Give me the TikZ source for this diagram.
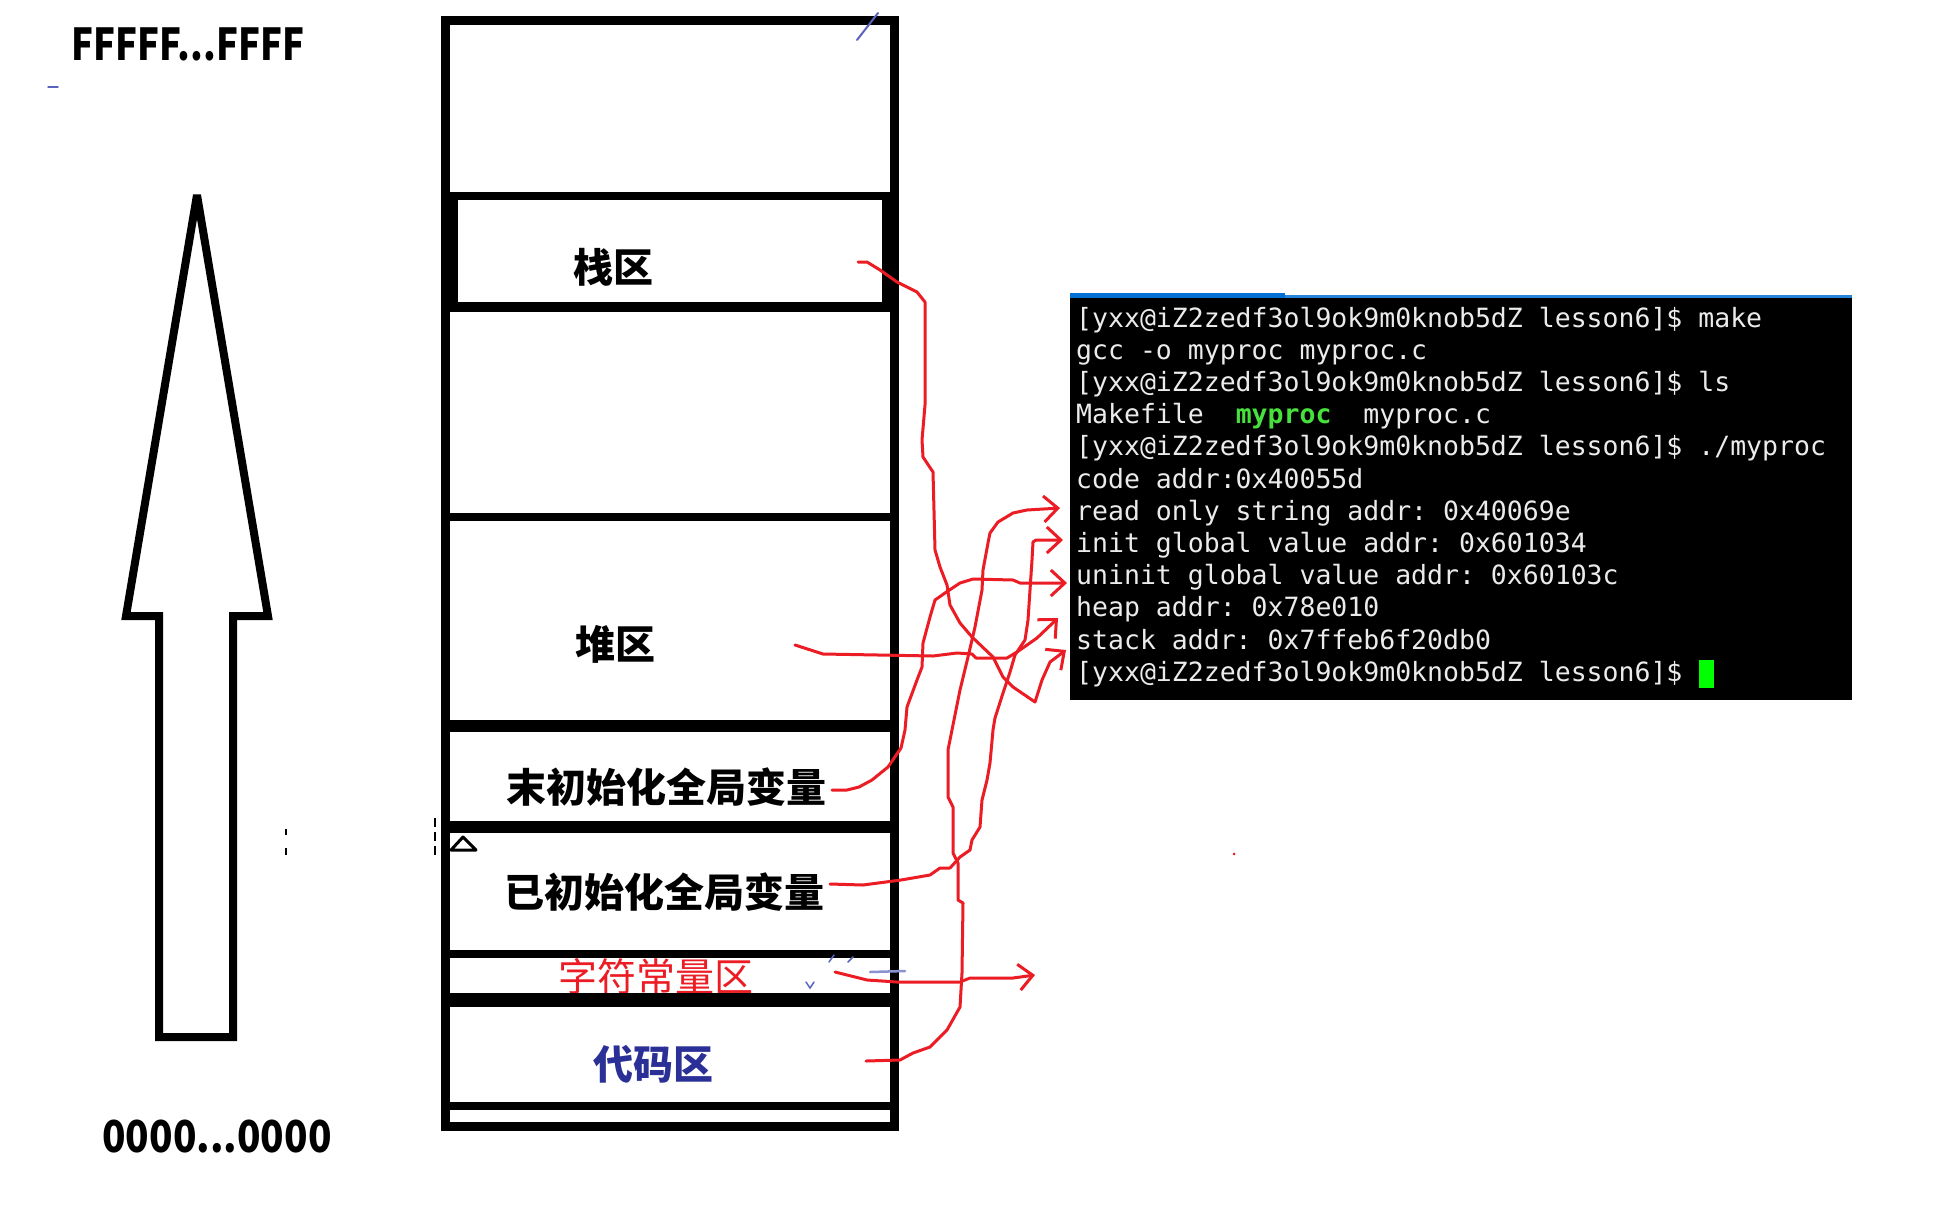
\documentclass[tikz,border=0pt]{standalone}
\usepackage{fontspec}
\usepackage{xcolor}
\usetikzlibrary{arrows.meta, positioning}
\newfontfamily\cjk{Noto Sans CJK SC}
\newfontfamily\mono{DejaVu Sans Mono}
\definecolor{penred}{RGB}{236,28,36}
\definecolor{codeblue}{RGB}{42,48,150}
\definecolor{inkblue}{RGB}{90,100,190}
\definecolor{termfg}{RGB}{235,235,235}
\definecolor{termgreen}{RGB}{70,225,60}
\definecolor{cursorgreen}{RGB}{0,255,0}
\definecolor{tabblue}{RGB}{0,112,212}

\begin{document}
\begin{tikzpicture}[x=1pt, y=-1pt,
  wall/.style={draw=black, line width=9pt},
  area/.style={font=\cjk\bfseries\fontsize{40}{40}\selectfont, inner sep=0pt},
  addr/.style={font=\cjk\bfseries\fontsize{44}{44}\selectfont, inner sep=0pt},
  tline/.style={font=\mono\fontsize{26.5}{26.5}\selectfont\frenchspacing, text=termfg, inner sep=0pt,
                text height=20pt, text depth=6pt, anchor=north west},
  pen/.style={draw=penred, line width=3pt, line join=round, line cap=round,
              -{Straight Barb[length=14pt, width=26pt]}},
  ink/.style={draw=inkblue, line width=2pt, line cap=round}
]
  \path[fill=white, use as bounding box] (0,0) rectangle (1953,1208);

  \node[addr] (hi) at (188,44) {\scalebox{0.83}[1]{FFFFF...FFFF}};
  \node[addr] (lo) at (217,1137) {\scalebox{0.88}[1]{0000...0000}};
  \draw[black, line width=8pt, miter limit=3] (197,195) -- (268,616) -- (233,616) -- (233,1037)
    -- (159,1037) -- (159,616) -- (126,616) -- cycle;

  \node[area] (stk) at (613,267) {栈区};
  \node[area] (hp) at (615,644) {堆区};
  \node[area] (bss) at (666,787) {末初始化全局变量};
  \node[area] (dat) at (664,892) {已初始化全局变量};
  \node[area, font=\cjk\fontsize{39}{39}\selectfont, text=penred] (ro) at (656,977) {字符常量区};
  \node[area, text=codeblue] (txt) at (653,1064) {代码区};

  \draw[wall] (445,20) rectangle (894,1126);
  \draw[wall, line width=8pt] (445,196) -- (894,196);
  \draw[wall, line width=8pt] (454,196) -- (454,307);
  \draw[wall, line width=8pt] (886,196) -- (886,307);
  \draw[wall, line width=10pt] (445,307) -- (894,307);
  \draw[wall, line width=8pt] (445,517) -- (894,517);
  \draw[wall, line width=12pt] (445,726) -- (894,726);
  \draw[wall, line width=12pt] (445,827) -- (894,827);
  \draw[wall, line width=8pt] (445,954) -- (894,954);
  \draw[wall, line width=14pt] (445,1000) -- (894,1000);
  \draw[wall, line width=8pt] (445,1106) -- (894,1106);

  \draw[black, line width=3pt, line join=round] (451,850) -- (476,850) -- (463,837) -- cycle;
  \draw[black, line width=2pt, dash pattern=on 9pt off 5pt] (435,818) -- (435,857);
  \draw[black, line width=2pt] (286,829) -- (286,835) (286,848) -- (286,855);
  \draw[ink] (857,40) -- (878,13);
  \draw[ink, line width=1.5pt] (48,87) -- (58,87);
  \draw[ink, line width=2.5pt, draw=inkblue!70] (870,972) -- (905,971);
  \draw[ink, line width=1.5pt] (806,982) -- (810,988) -- (814,982);
  \draw[ink, line width=1.5pt] (829,962) -- (834,955) (848,962) -- (853,957);
  \fill[penred] (1234,854) circle (1.5pt);

  \node[fill=black, minimum width=782pt, minimum height=402pt, inner sep=0pt] (term) at (1461,499) {};
  \draw[tabblue, line width=5pt] ([yshift=2.5pt]term.north west) -- ++(215,0);
  \draw[tabblue!85, line width=3pt] ([xshift=215pt, yshift=1.5pt]term.north west) -- ([yshift=1.5pt]term.north east);

  \node[tline, anchor=west] (ln1) at (1076,320) {[yxx@iZ2zedf3ol9ok9m0knob5dZ lesson6]\$ make};
  \node[below=5.8pt of ln1.south west, tline] (ln2) {gcc -o myproc myproc.c};
  \node[below=5.8pt of ln2.south west, tline] (ln3) {[yxx@iZ2zedf3ol9ok9m0knob5dZ lesson6]\$ ls};
  \node[below=5.8pt of ln3.south west, tline] (ln4) {Makefile~~\textcolor{termgreen}{\bfseries myproc}~~myproc.c};
  \node[below=5.8pt of ln4.south west, tline] (ln5) {[yxx@iZ2zedf3ol9ok9m0knob5dZ lesson6]\$ ./myproc};
  \node[below=5.8pt of ln5.south west, tline] (ln6) {code addr:0x40055d};
  \node[below=5.8pt of ln6.south west, tline] (ln7) {read only string addr: 0x40069e};
  \node[below=5.8pt of ln7.south west, tline] (ln8) {init global value addr: 0x601034};
  \node[below=5.8pt of ln8.south west, tline] (ln9) {uninit global value addr: 0x60103c};
  \node[below=5.8pt of ln9.south west, tline] (ln10) {heap addr: 0x78e010};
  \node[below=5.8pt of ln10.south west, tline] (ln11) {stack addr: 0x7ffeb6f20db0};
  \node[below=5.8pt of ln11.south west, tline] (ln12) {[yxx@iZ2zedf3ol9ok9m0knob5dZ lesson6]\$};
  \node[fill=cursorgreen, minimum width=15pt, minimum height=28pt, inner sep=0pt,
        right=16pt of ln12] (cur) {};

  \coordinate (stk-out) at (858,262);
  \coordinate (stk-in) at (1066,650);
  \coordinate (hp-out) at (795,645);
  \coordinate (hp-in) at (1058,618);
  \coordinate (bss-out) at (832,790);
  \coordinate (bss-in) at (1067,583);
  \coordinate (dat-out) at (830,884);
  \coordinate (dat-in) at (1063,540);
  \coordinate (txt-out) at (866,1061);
  \coordinate (txt-in) at (1060,508);
  \coordinate (ro-out) at (835,972);
  \coordinate (ro-in) at (1035,975);

  \draw[pen] (stk-out) -- (867,262) -- (880,270) -- (897,282) -- (917,292) -- (925,302) -- (925,405)
    -- (922,440) -- (923,457) -- (933,472) -- (935,550) -- (940,567) -- (947,585) -- (950,605)
    -- (960,623) -- (972,637) -- (993,657) -- (1003,677) -- (1013,687) -- (1035,702) -- (1042,680)
    -- (1050,662) -- (stk-in);
  \draw[pen] (hp-out) -- (823,654) -- (933,656) -- (957,653) -- (972,654) -- (976,658) -- (1007,658)
    -- (1017,652) -- (1037,638) -- (hp-in);
  \draw[pen] (bss-out) -- (847,790) -- (859,787) -- (872,780) -- (888,767) -- (901,748) -- (905,730)
    -- (907,707) -- (917,680) -- (922,667) -- (923,643) -- (930,617) -- (935,600) -- (945,593)
    -- (960,583) -- (973,579) -- (1013,580) -- (1020,583) -- (bss-in);
  \draw[pen] (dat-out) -- (863,885) -- (901,880) -- (930,875) -- (940,868) -- (950,868) -- (960,857)
    -- (970,850) -- (972,840) -- (980,827) -- (982,800) -- (987,780) -- (990,763) -- (993,730)
    -- (995,718) -- (1003,693) -- (1010,672) -- (1015,655) -- (1025,640) -- (1028,620) -- (1030,590)
    -- (1032,560) -- (1033,542) -- (1036,540) -- (dat-in);
  \draw[pen] (txt-out) -- (900,1060) -- (913,1053) -- (930,1047) -- (947,1030) -- (960,1007)
    -- (962,973) -- (963,903) -- (958,900) -- (958,863) -- (953,853) -- (953,807) -- (948,797)
    -- (948,750) -- (952,730) -- (960,690) -- (968,657) -- (975,627) -- (982,590) -- (983,570)
    -- (988,543) -- (990,533) -- (998,522) -- (1013,513) -- (1027,510) -- (txt-in);
  \draw[pen] (ro-out) -- (847,975) -- (867,980) -- (897,982) -- (960,982) -- (970,978) -- (1013,978)
    -- (ro-in);
\end{tikzpicture}
\end{document}
